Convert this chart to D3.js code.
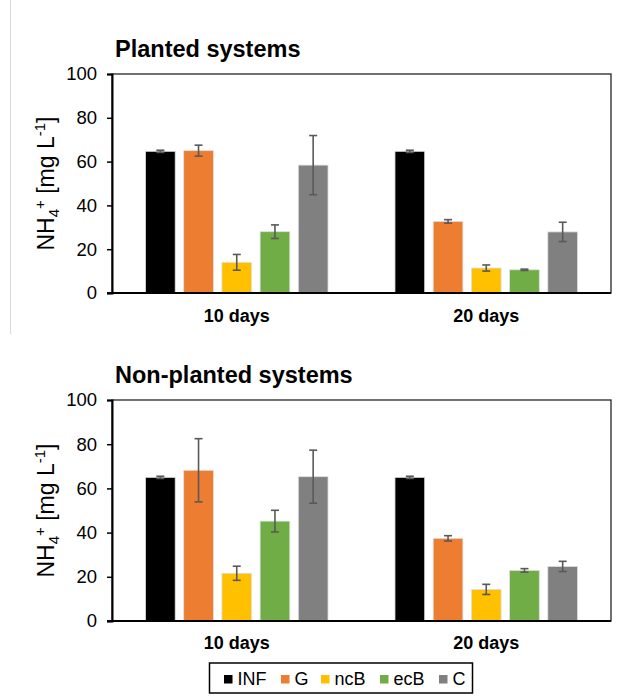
<!DOCTYPE html>
<html>
<head>
<meta charset="utf-8">
<script src="https://cdn.jsdelivr.net/npm/d3@7"></script>
<style>
  body { margin: 0; background: #fff; }
  svg { display: block; font-family: "Liberation Sans", Arial, sans-serif; }
</style>
</head>
<body>
<div id="chart"></div>
<script>
// categories and series
const groups = ["10 days", "20 days"];
const series = ["INF", "G", "ncB", "ecB", "C"];
const colors = ["#000000", "#ED7D31", "#FFC000", "#70AD47", "#808080"];
const yTicks = [0, 20, 40, 60, 80, 100];

// NH4+ means and error (one row per group, one column per series)
const plantedMean = [[64.7, 65.0, 14.0, 28.0, 58.4], [64.7, 32.7, 11.4, 10.6, 27.9]];
const plantedErr = [[0.5, 2.5, 3.6, 3.1, 13.5], [0.5, 0.8, 1.4, 0.3, 4.4]];
const nonPlantedMean = [[65.0, 68.2, 21.6, 45.2, 65.3], [65.0, 37.4, 14.3, 22.9, 24.7]];
const nonPlantedErr = [[0.5, 14.3, 3.2, 4.9, 12.0], [0.5, 1.2, 2.3, 0.8, 2.3]];

const width = 622;
const height = 697;

const svg = d3.select("#chart")
              .append("svg")
              .attr("width", width)
              .attr("height", height);

// thin light rule at the left edge of the top panel
svg.append("line")
   .attr("x1", 10.5).attr("x2", 10.5)
   .attr("y1", 0).attr("y2", 334)
   .attr("stroke", "#d9d9d9")
   .attr("stroke-width", 1);

const left = 112, right = 611;

function drawPanel(title, means, errs, top, bottom, titleY, labelY) {
    const g = svg.append("g");

    const y = d3.scaleLinear().domain([0, 100]).range([bottom, top]);
    const x0 = d3.scaleBand().domain(groups).range([left, right]).padding(0);
    const x1 = d3.scaleBand().domain(series).range([0, x0.bandwidth()])
                 .paddingInner(0.222).paddingOuter(0.876);

    // title
    g.append("text")
     .attr("x", 115)
     .attr("y", titleY)
     .attr("font-size", 23.5)
     .attr("font-weight", "bold")
     .attr("fill", "#000")
     .text(title);

    // frame
    g.append("rect")
     .attr("x", left).attr("y", top)
     .attr("width", right - left).attr("height", bottom - top)
     .attr("fill", "none")
     .attr("stroke", "#262626")
     .attr("stroke-width", 1.3);

    // bars
    const rows = [];
    groups.forEach((grp, gi) => {
        series.forEach((s, si) => {
            rows.push({ group: grp, series: s, value: means[gi][si], err: errs[gi][si], color: colors[si] });
        });
    });

    g.append("g")
     .selectAll("rect")
     .data(rows)
     .enter().append("rect")
     .attr("x", d => x0(d.group) + x1(d.series))
     .attr("y", d => y(d.value))
     .attr("width", x1.bandwidth())
     .attr("height", d => y(0) - y(d.value))
     .attr("fill", d => d.color)
     .attr("stroke", "#e0e0e0")
     .attr("stroke-width", 0.8);

    // error bars
    const eb = g.append("g")
                .attr("stroke", "#595959")
                .attr("stroke-width", 1.6)
                .selectAll("g")
                .data(rows)
                .enter().append("g");

    const cx = d => x0(d.group) + x1(d.series) + x1.bandwidth() / 2;

    eb.append("line")
      .attr("x1", cx).attr("x2", cx)
      .attr("y1", d => y(d.value + d.err))
      .attr("y2", d => y(d.value - d.err));
    eb.append("line")
      .attr("x1", d => cx(d) - 4).attr("x2", d => cx(d) + 4)
      .attr("y1", d => y(d.value + d.err))
      .attr("y2", d => y(d.value + d.err));
    eb.append("line")
      .attr("x1", d => cx(d) - 4).attr("x2", d => cx(d) + 4)
      .attr("y1", d => y(d.value - d.err))
      .attr("y2", d => y(d.value - d.err));

    // y axis
    const yAxis = g.append("g")
                   .attr("transform", `translate(${left},0)`)
                   .call(d3.axisLeft(y).tickValues(yTicks).tickSize(5).tickPadding(10));
    yAxis.select(".domain").attr("stroke", "#000").attr("stroke-width", 2);
    yAxis.selectAll(".tick line").attr("stroke", "#000").attr("stroke-width", 1.5);
    yAxis.selectAll(".tick text")
         .attr("font-size", 18.5)
         .attr("font-family", "Liberation Sans, Arial, sans-serif")
         .attr("fill", "#000");

    // x baseline
    g.append("line")
     .attr("x1", left - 5).attr("x2", right)
     .attr("y1", y(0)).attr("y2", y(0))
     .attr("stroke", "#000")
     .attr("stroke-width", 2);

    // category labels
    g.append("g")
     .selectAll("text")
     .data(groups)
     .enter().append("text")
     .attr("x", d => x0(d) + x0.bandwidth() / 2)
     .attr("y", labelY)
     .attr("text-anchor", "middle")
     .attr("font-size", 18)
     .attr("font-weight", "bold")
     .attr("fill", "#000")
     .text(d => d);

    // y axis title: NH4+ [mg L-1]
    const yt = g.append("text")
                .attr("transform", `translate(54,${(top + bottom) / 2}) rotate(-90)`)
                .attr("text-anchor", "middle")
                .attr("font-size", 23)
                .attr("fill", "#000");
    yt.append("tspan").text("NH");
    yt.append("tspan").attr("font-size", 15).attr("dy", 5).text("4");
    yt.append("tspan").attr("font-size", 15).attr("dy", -14).text("+");
    yt.append("tspan").attr("dy", 9).text(" [mg L");
    yt.append("tspan").attr("font-size", 15).attr("dy", -9).text("-1");
    yt.append("tspan").attr("dy", 9).text("]");
}

drawPanel("Planted systems", plantedMean, plantedErr, 74, 293, 57, 322);
drawPanel("Non-planted systems", nonPlantedMean, nonPlantedErr, 400, 621, 383, 649);

// legend
const legend = svg.append("g");
legend.append("rect")
      .attr("x", 209.5).attr("y", 663)
      .attr("width", 263).attr("height", 30)
      .attr("fill", "#fff")
      .attr("stroke", "#000")
      .attr("stroke-width", 1.5);

const legendX = [224, 281, 321, 380, 439];
const item = legend.selectAll("g.item")
                   .data(series)
                   .enter().append("g")
                   .attr("class", "item")
                   .attr("transform", (d, i) => `translate(${legendX[i]},675)`);
item.append("rect")
    .attr("width", 8.5).attr("height", 8.5)
    .attr("fill", (d, i) => colors[i]);
item.append("text")
    .attr("x", 13.5)
    .attr("y", 10)
    .attr("font-size", 18)
    .attr("fill", "#000")
    .text(d => d);
</script>
</body>
</html>
